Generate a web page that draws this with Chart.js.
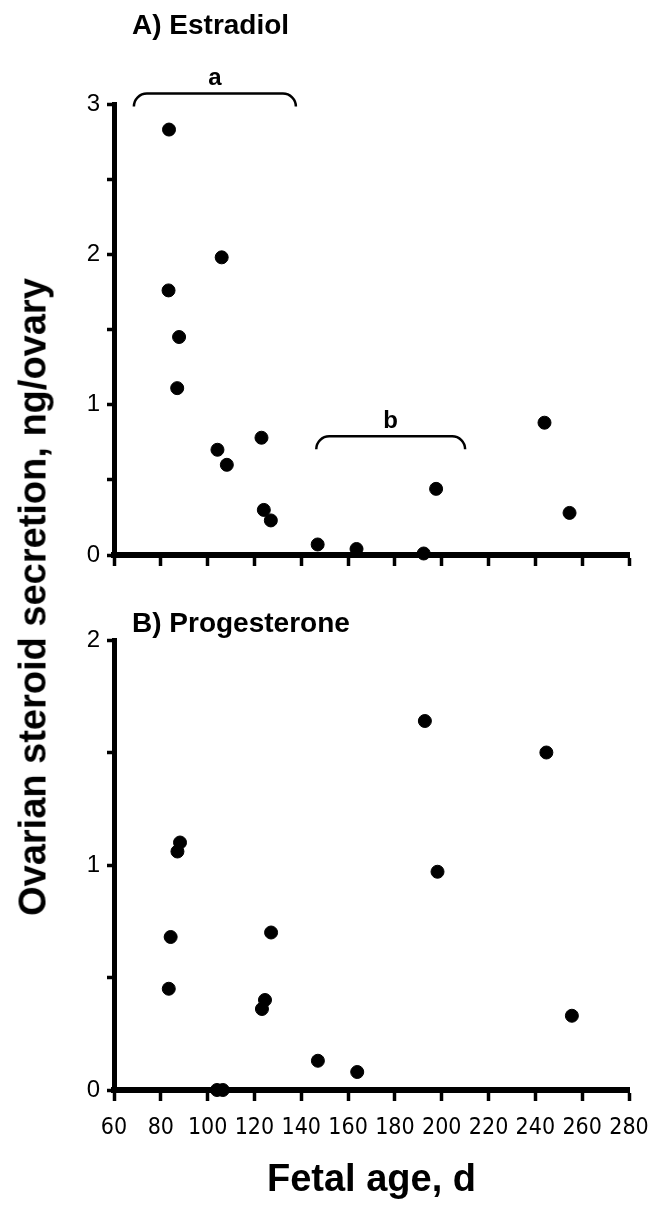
<!DOCTYPE html>
<html>
<head>
<meta charset="utf-8">
<script src="https://cdn.jsdelivr.net/npm/chart.js@4.4.1/dist/chart.umd.min.js"></script>
<style>
  body { margin: 0; background: #fff; }
  #wrap { position: relative; width: 650px; height: 1206px; overflow: hidden; background: #fff; }
  #topBox { position: absolute; left: 0; top: 0; width: 650px; height: 600px; }
  #bottomBox { position: absolute; left: 0; top: 600px; width: 650px; height: 606px; }
  #yTitle {
    position: absolute; left: 33px; top: 597px;
    transform: translate(-50%, -50%) rotate(-90deg);
    font: bold 38px 'Liberation Sans', Arial, sans-serif;
    color: #000; white-space: nowrap;
  }
</style>
</head>
<body>
<div id="wrap">
  <div id="topBox"><canvas id="chartTop" width="650" height="600"></canvas></div>
  <div id="bottomBox"><canvas id="chartBottom" width="650" height="606"></canvas></div>
  <div id="yTitle">Ovarian steroid secretion, ng/ovary</div>
</div>
<script>
// Du lieu doc tu hinh (tuoi thai, ngay)
const ageMin = 60;
const ageMax = 280;
const ageStep = 20;

// A) Estradiol
const estradiolAge   = [83.5, 83.3, 87.8, 87.0, 104.2, 106.0, 108.2, 123.0, 124.0, 127.0, 147.0, 163.6, 192.3, 197.6, 243.9, 254.6];
const estradiolValue = [2.83, 1.76, 1.45, 1.11, 0.70,  1.98,  0.60,  0.78,  0.30,  0.23,  0.07,  0.04,  0.01,  0.44,  0.88,  0.28];
const estradiolMax = 3;

// B) Progesterone
const progesteroneAge   = [83.4, 84.2, 87.1, 88.2, 104.0, 106.5, 123.2, 124.5, 127.1, 147.1, 163.9, 192.8, 198.2, 244.7, 255.6];
const progesteroneValue = [0.45, 0.68, 1.06, 1.10, 0.0,   0.0,   0.36,  0.40,  0.70,  0.13,  0.08,  1.64,  0.97,  1.50,  0.33];
const progesteroneMax = 2;

const yStep = 0.5;

// Ngoac chu thich (a, b) tren bieu do A
const bracketLabels = ['a', 'b'];
const bracketFrom   = [68.5, 146.4];
const bracketTo     = [137.7, 210.0];
const bracketLevel  = [3.07, 0.79];

const panelTitles = ['A) Estradiol', 'B) Progesterone'];

Chart.defaults.font.family = "'Liberation Sans', Arial, sans-serif";
Chart.defaults.color = '#000';

function toPoints(xs, ys) {
	return xs.map((x, i) => ({ x: x, y: ys[i] }));
}

// plugin ve tieu de panel va ngoac
const panelDecor = {
	id: 'panelDecor',
	afterDraw(chart, args, opts) {
		const ctx = chart.ctx;
		const xs = chart.scales.x;
		const ys = chart.scales.y;
		ctx.save();
		ctx.fillStyle = '#000';
		ctx.font = 'bold 28px ' + Chart.defaults.font.family;
		ctx.textAlign = 'left';
		ctx.textBaseline = 'alphabetic';
		ctx.fillText(opts.title, chart.chartArea.left + 18, opts.titleBaseline);

		if (opts.brackets) {
			ctx.strokeStyle = '#000';
			ctx.lineWidth = 2.5;
			ctx.font = 'bold 24px ' + Chart.defaults.font.family;
			ctx.textAlign = 'center';
			for (let i = 0; i < bracketLabels.length; i++) {
				const x1 = xs.getPixelForValue(bracketFrom[i]);
				const x2 = xs.getPixelForValue(bracketTo[i]);
				const yy = ys.getPixelForValue(bracketLevel[i]);
				const r = 13;
				ctx.beginPath();
				ctx.moveTo(x1, yy + r);
				ctx.arcTo(x1, yy, x1 + r, yy, r);
				ctx.lineTo(x2 - r, yy);
				ctx.arcTo(x2, yy, x2, yy + r, r);
				ctx.stroke();
				ctx.fillText(bracketLabels[i], (x1 + x2) / 2, yy - 8);
			}
		}
		ctx.restore();
	}
};

function makeChart(canvasId, pts, yMax, opts) {
	var ctx = document.getElementById(canvasId).getContext('2d');
	return new Chart(ctx, {
		type: 'scatter',
		data: {
			datasets: [{
				data: pts,
				backgroundColor: '#000',
				borderColor: '#000',
				pointRadius: 6.5,
				pointHoverRadius: 6.5,
				clip: false,
			}],
		},
		options: {
			responsive: false,
			animation: false,
			devicePixelRatio: 1,
			layout: { padding: { top: opts.padTop, right: 21, bottom: 0, left: 0 } },
			plugins: {
				legend: { display: false },
				tooltip: { enabled: false },
				panelDecor: opts.decor,
			},
			scales: {
				x: {
					type: 'linear',
					min: ageMin,
					max: ageMax,
					afterFit: function(scale) {
						scale.height = opts.xHeight;
						scale.paddingLeft = 0;
						scale.paddingRight = 0;
					},
					ticks: {
						stepSize: ageStep,
						display: opts.showXLabels,
						padding: 13,
						font: { size: 23, family: "'DejaVu Sans Condensed', 'Liberation Sans Narrow', 'Liberation Sans', Arial, sans-serif" },
						color: '#000',
					},
					grid: {
						drawOnChartArea: false,
						drawTicks: true,
						tickLength: 11,
						tickWidth: 3.5,
						tickColor: '#000',
					},
					border: { display: true, color: '#000', width: 6 },
					title: {
						display: opts.showXLabels,
						text: 'Fetal age, d',
						font: { size: 38, weight: 'bold' },
						color: '#000',
						padding: { top: 0, bottom: 3 },
					},
				},
				y: {
					type: 'linear',
					min: 0,
					max: yMax,
					afterFit: function(scale) {
						scale.width = 114;
						scale.paddingTop = 0;
						scale.paddingBottom = 0;
					},
					ticks: {
						stepSize: yStep,
						padding: 7,
						font: { size: 24 },
						color: '#000',
						callback: function(v) { return Number.isInteger(v) ? String(v) : ''; },
					},
					grid: {
						drawOnChartArea: false,
						drawTicks: true,
						tickLength: 7,
						tickWidth: 3.5,
						tickColor: '#000',
					},
					border: { display: true, color: '#000', width: 5 },
				},
			},
		},
		plugins: [panelDecor],
	});
}

makeChart('chartTop', toPoints(estradiolAge, estradiolValue), estradiolMax, {
	padTop: 104,
	xHeight: 45,
	showXLabels: false,
	decor: { title: panelTitles[0], titleBaseline: 34, brackets: true },
});

makeChart('chartBottom', toPoints(progesteroneAge, progesteroneValue), progesteroneMax, {
	padTop: 40,
	xHeight: 116,
	showXLabels: true,
	decor: { title: panelTitles[1], titleBaseline: 32, brackets: false },
});
</script>
</body>
</html>
